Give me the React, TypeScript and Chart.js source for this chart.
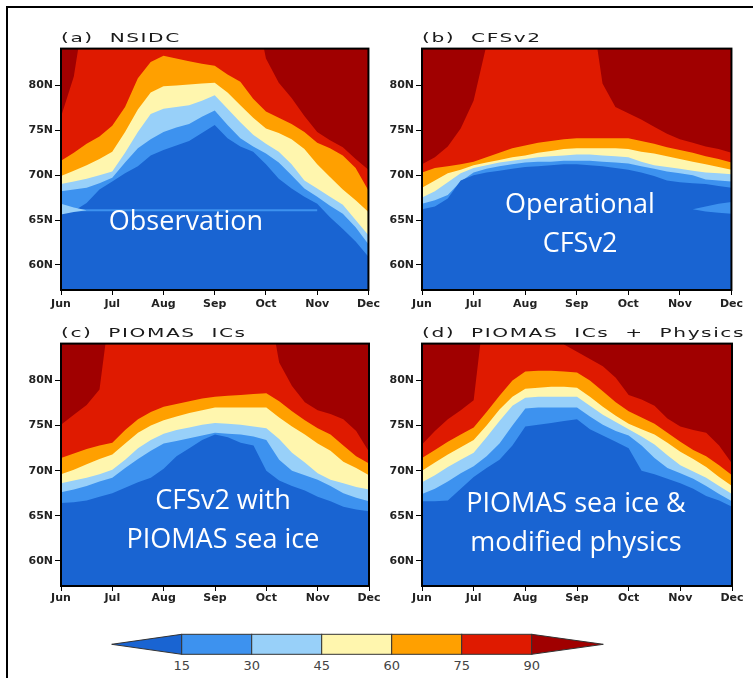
import React, { useEffect, useRef } from "react";
import { Chart, registerables } from "chart.js";

Chart.register(...registerables);

// ---------- shared axes ----------
const MONTHS = ["Jun", "Jul", "Aug", "Sep", "Oct", "Nov", "Dec"];
const MONTH_POS = [0, 1, 2, 3, 4, 5, 6];
const T = [0, 0.25, 0.5, 0.75, 1, 1.25, 1.5, 1.75, 2, 2.25, 2.5, 2.75, 3, 3.25, 3.5, 3.75, 4, 4.25, 4.5, 4.75, 5, 5.25, 5.5, 5.75, 6];
const LAT_TICKS = [60, 65, 70, 75, 80];
const LAT_MIN = 57.2;
const LAT_MAX = 84.1;

// ---------- contour levels / colours ----------
const LEVELS = [15, 30, 45, 60, 75, 90];
const BAND_COLORS = ["#1964d2", "#3d92ef", "#98d0f9", "#fff6ae", "#ffa000", "#df1a00", "#a00000"];

// ---------- (a) NSIDC : latitude of each contour level vs time ----------
const NSIDC_15 = [65.8, 66.0, 66.9, 68.4, 69.3, 70.2, 71.0, 72.2, 72.8, 73.3, 73.8, 74.7, 75.6, 74.1, 73.2, 72.6, 71.2, 69.6, 68.5, 67.6, 66.8, 65.3, 64.0, 62.6, 60.9];
const NSIDC_30 = [68.2, 68.4, 68.6, 69.1, 69.7, 71.4, 73.0, 74.0, 74.8, 75.3, 75.7, 76.5, 77.2, 75.6, 74.1, 73.2, 72.4, 71.4, 70.0, 68.5, 67.6, 66.6, 65.7, 64.2, 62.3];
const NSIDC_45 = [69.0, 69.3, 69.6, 70.0, 70.4, 72.5, 74.8, 76.8, 77.4, 77.6, 77.8, 78.3, 78.9, 77.4, 75.9, 74.5, 73.5, 72.6, 71.2, 69.4, 68.5, 67.6, 66.7, 65.0, 63.3];
const NSIDC_60 = [69.9, 70.5, 71.1, 71.8, 72.6, 74.8, 77.3, 79.2, 79.9, 80.0, 80.1, 80.2, 80.3, 79.2, 77.8, 76.4, 75.2, 74.7, 74.0, 72.9, 71.2, 69.8, 68.4, 67.2, 65.9];
const NSIDC_75 = [71.6, 72.5, 73.5, 74.3, 75.5, 77.6, 80.8, 82.6, 83.3, 83.0, 82.7, 82.4, 82.2, 81.2, 80.4, 78.5, 77.1, 76.4, 75.7, 74.8, 73.6, 73.0, 72.2, 70.8, 68.3];
const NSIDC_90 = [76.5, 81.0, 90, 90, 90, 90, 90, 90, 90, 90, 90, 90, 90, 90, 90, 90, 83.0, 80.3, 78.6, 76.6, 74.8, 73.9, 73.1, 71.8, 70.6];
const NSIDC_SEAM = [66.1, 66.1, 66.1, 66.1, 66.1, 66.1, 66.1, 66.1, 66.1, 66.1, 66.1, 66.1, 66.1, 66.1, 66.1, 66.1, 66.1, 66.1, 66.1, 66.1, 66.1];
const NSIDC_WEDGE_TOP = [66.8, 66.4, 66.1];
const NSIDC_WEDGE_BOT = [65.6, 65.9, 66.1];

// ---------- (b) CFSv2 ----------
const CFS_15 = [66.2, 66.5, 67.4, 69.4, 70.0, 70.3, 70.5, 70.7, 70.9, 71.0, 71.1, 71.2, 71.2, 71.1, 71.0, 70.8, 70.6, 70.3, 69.9, 69.4, 69.2, 69.1, 69.0, 68.8, 68.6];
const CFS_30 = [66.8, 67.2, 67.8, 69.3, 70.3, 70.7, 71.0, 71.2, 71.4, 71.5, 71.5, 71.6, 71.6, 71.6, 71.5, 71.4, 71.3, 71.0, 70.7, 70.4, 70.2, 70.0, 69.5, 69.4, 69.3];
const CFS_45 = [67.5, 68.2, 69.2, 70.2, 70.8, 71.1, 71.4, 71.6, 71.8, 72.0, 72.1, 72.2, 72.3, 72.3, 72.2, 72.1, 72.0, 71.5, 71.1, 70.9, 70.7, 70.5, 70.3, 70.2, 70.1];
const CFS_60 = [68.6, 69.4, 70.2, 70.6, 71.1, 71.4, 71.7, 72.0, 72.2, 72.5, 72.7, 72.9, 73.0, 73.0, 73.0, 73.0, 72.9, 72.6, 72.4, 72.1, 71.8, 71.5, 71.2, 70.9, 70.6];
const CFS_75 = [70.3, 70.8, 71.0, 71.2, 71.5, 72.0, 72.5, 73.0, 73.3, 73.6, 73.8, 74.0, 74.1, 74.1, 74.1, 74.1, 74.1, 73.8, 73.5, 73.1, 72.8, 72.5, 72.1, 71.8, 71.4];
const CFS_90 = [71.2, 72.0, 73.2, 75.2, 78.3, 84.5, 90, 90, 90, 90, 90, 90, 90, 90, 80.2, 77.6, 76.9, 76.2, 75.4, 74.6, 74.0, 73.6, 73.2, 72.9, 72.5];
const CFS_ISLAND_TOP = [66.2, 66.5, 66.8, 67.0];
const CFS_ISLAND_BOT = [66.2, 65.95, 65.8, 65.7];

// ---------- (c) PIOMAS ICs ----------
const PIO_15 = [66.4, 66.5, 66.7, 67.1, 67.5, 68.1, 68.7, 69.2, 70.2, 71.6, 72.5, 73.4, 74.0, 73.7, 73.1, 72.8, 70.0, 68.9, 68.3, 67.8, 67.1, 66.6, 66.0, 65.7, 65.5];
const PIO_30 = [67.6, 67.9, 68.3, 68.8, 69.2, 70.3, 71.3, 72.2, 73.0, 73.3, 73.6, 73.9, 74.2, 74.1, 74.0, 73.8, 73.4, 71.2, 70.0, 69.5, 69.0, 68.3, 67.5, 67.0, 66.6];
const PIO_45 = [68.6, 68.9, 69.2, 69.6, 70.1, 71.2, 72.5, 73.4, 74.1, 74.5, 74.8, 75.1, 75.3, 75.2, 75.1, 74.9, 74.7, 73.5, 72.0, 70.9, 69.7, 69.0, 68.6, 68.2, 67.9];
const PIO_60 = [69.6, 70.1, 70.7, 71.3, 71.8, 73.0, 74.2, 75.0, 75.6, 76.0, 76.4, 76.7, 77.0, 77.0, 77.0, 77.0, 77.0, 75.9, 74.9, 74.0, 73.0, 72.2, 71.0, 70.3, 69.5];
const PIO_75 = [71.4, 71.9, 72.4, 72.8, 73.1, 74.5, 75.7, 76.5, 77.1, 77.4, 77.7, 78.0, 78.2, 78.3, 78.4, 78.5, 78.6, 77.7, 76.6, 75.6, 74.7, 74.0, 72.8, 71.6, 70.8];
const PIO_90 = [75.1, 76.2, 77.3, 79.0, 90, 90, 90, 90, 90, 90, 90, 90, 90, 90, 90, 90, 90, 82.0, 79.4, 77.6, 76.7, 76.3, 75.7, 74.4, 72.1];

// ---------- (d) PIOMAS ICs + Physics ----------
const PHY_15 = [66.6, 66.6, 66.7, 68.0, 69.3, 70.3, 71.2, 72.8, 74.9, 75.1, 75.3, 75.5, 75.7, 74.6, 73.9, 73.2, 72.5, 70.0, 69.6, 69.1, 68.6, 68.0, 67.2, 66.7, 66.0];
const PHY_30 = [67.4, 68.0, 68.8, 69.7, 70.5, 71.6, 73.0, 75.0, 76.9, 77.0, 77.0, 77.0, 77.0, 76.0, 75.1, 74.4, 73.9, 72.8, 71.4, 70.3, 69.7, 69.1, 68.3, 67.4, 66.6];
const PHY_45 = [68.7, 69.5, 70.4, 71.2, 72.0, 73.7, 75.5, 77.2, 78.1, 78.2, 78.2, 78.2, 78.2, 77.2, 76.2, 75.4, 74.6, 73.8, 72.9, 71.7, 70.6, 69.9, 69.2, 68.3, 67.4];
const PHY_60 = [70.0, 70.9, 71.8, 72.6, 73.4, 75.0, 76.8, 78.2, 79.1, 79.2, 79.3, 79.3, 79.2, 78.2, 77.1, 76.1, 75.2, 74.6, 74.0, 73.1, 72.1, 71.3, 70.4, 69.3, 68.3];
const PHY_75 = [71.4, 72.3, 73.2, 74.0, 74.8, 76.5, 78.3, 80.0, 81.0, 81.1, 81.1, 81.0, 80.9, 80.0, 78.8, 77.6, 76.6, 75.9, 75.2, 74.2, 73.2, 72.3, 71.6, 70.6, 69.5];
const PHY_90 = [72.9, 74.4, 75.7, 76.7, 77.8, 90, 90, 90, 90, 90, 90, 84.0, 83.2, 82.4, 81.6, 80.3, 78.4, 77.9, 77.2, 75.8, 74.9, 74.5, 74.2, 72.8, 70.8];

// ---------- layout ----------
const Y_AXIS_W = 61;
const X_AXIS_H = 25;
const PAD_TOP = 7;
const PAD_RIGHT = 14;
const GRID_COLOR = "rgba(140,140,140,0.7)";

type Extra = { kind: "seam" | "patchTop" | "patchBot"; values: number[]; from: number; color?: string };
type Panel = {
  id: string;
  title: string;
  note: string;
  noteX: number;
  noteTop: number;
  lines: number[][];
  extras: Extra[];
  plot: { l: number; r: number; t: number; b: number };
  xPad: number;
};

const PANELS: Panel[] = [
  {
    id: "a", title: "(a)  NSIDC", note: "Observation", noteX: 186, noteTop: 200,
    lines: [NSIDC_15, NSIDC_30, NSIDC_45, NSIDC_60, NSIDC_75, NSIDC_90],
    extras: [
      { kind: "patchTop", values: NSIDC_WEDGE_TOP, from: 0, color: BAND_COLORS[2] },
      { kind: "patchBot", values: NSIDC_WEDGE_BOT, from: 0 },
      { kind: "seam", values: NSIDC_SEAM, from: 0 },
    ],
    plot: { l: 61, r: 369, t: 47, b: 290 }, xPad: 3,
  },
  {
    id: "b", title: "(b)  CFSv2", note: "Operational\nCFSv2", noteX: 580, noteTop: 183,
    lines: [CFS_15, CFS_30, CFS_45, CFS_60, CFS_75, CFS_90],
    extras: [
      { kind: "patchTop", values: CFS_ISLAND_TOP, from: 21, color: BAND_COLORS[1] },
      { kind: "patchBot", values: CFS_ISLAND_BOT, from: 21 },
    ],
    plot: { l: 422, r: 732, t: 47, b: 290 }, xPad: 3,
  },
  {
    id: "c", title: "(c)  PIOMAS  ICs", note: "CFSv2 with\nPIOMAS sea ice", noteX: 223, noteTop: 479,
    lines: [PIO_15, PIO_30, PIO_45, PIO_60, PIO_75, PIO_90], extras: [],
    plot: { l: 61, r: 369, t: 342, b: 586 }, xPad: 1,
  },
  {
    id: "d", title: "(d)  PIOMAS  ICs  +  Physics", note: "PIOMAS sea ice &\nmodified physics", noteX: 576, noteTop: 482,
    lines: [PHY_15, PHY_30, PHY_45, PHY_60, PHY_75, PHY_90], extras: [],
    plot: { l: 422, r: 732, t: 342, b: 586 }, xPad: 1,
  },
];

const toPoints = (arr: number[], from = 0) => arr.map((y, i) => ({ x: T[from + i], y }));

const plotBgPlugin = {
  id: "plotBg",
  beforeDatasetsDraw(chart: any) {
    const { ctx, chartArea } = chart;
    ctx.save();
    ctx.fillStyle = BAND_COLORS[6];
    ctx.fillRect(chartArea.left, chartArea.top, chartArea.right - chartArea.left, chartArea.bottom - chartArea.top);
    ctx.restore();
  },
};

const framePlugin = {
  id: "frame",
  afterDraw(chart: any) {
    const { ctx, chartArea } = chart;
    ctx.save();
    ctx.strokeStyle = "#000";
    ctx.lineWidth = 2;
    ctx.strokeRect(chartArea.left, chartArea.top, chartArea.right - chartArea.left, chartArea.bottom - chartArea.top);
    ctx.restore();
  },
};

function buildConfig(panel: Panel): any {
  const datasets: any[] = [];
  panel.extras.forEach((e) => {
    const idx = datasets.length;
    if (e.kind === "patchTop") {
      datasets.push({ data: toPoints(e.values, e.from), borderWidth: 0, pointRadius: 0, fill: idx + 1, backgroundColor: e.color });
    } else if (e.kind === "patchBot") {
      datasets.push({ data: toPoints(e.values, e.from), borderWidth: 0, pointRadius: 0, fill: false });
    } else {
      datasets.push({ data: toPoints(e.values, e.from), borderWidth: 2, borderColor: BAND_COLORS[1], pointRadius: 0, fill: false });
    }
  });
  panel.lines.forEach((arr, i) => {
    datasets.push({
      label: "> " + LEVELS[i],
      data: toPoints(arr),
      borderWidth: 0,
      pointRadius: 0,
      tension: 0,
      fill: "start",
      backgroundColor: BAND_COLORS[i],
      borderColor: BAND_COLORS[i],
    });
  });

  const tickFont = { family: "'DejaVu Sans'", size: 11, weight: "bold" as const };

  return {
    type: "line",
    data: { datasets },
    plugins: [plotBgPlugin, framePlugin],
    options: {
      responsive: false,
      animation: false,
      devicePixelRatio: 1,
      events: [],
      layout: { padding: { left: 0, top: PAD_TOP, right: PAD_RIGHT, bottom: 0 } },
      plugins: { legend: { display: false }, tooltip: { enabled: false }, title: { display: false } },
      elements: { point: { radius: 0 }, line: { tension: 0 } },
      scales: {
        x: {
          type: "linear",
          min: 0,
          max: 6,
          z: 1,
          afterBuildTicks: (s: any) => { s.ticks = MONTH_POS.map((v) => ({ value: v })); },
          afterFit: (s: any) => { s.height = X_AXIS_H; },
          ticks: {
            callback: (v: number) => MONTHS[Math.round(v)],
            font: tickFont, color: "#222", padding: panel.xPad, maxRotation: 0, autoSkip: false,
          },
          grid: { color: GRID_COLOR, lineWidth: 1, tickColor: "#000", tickLength: 5, tickWidth: 1 },
          border: { display: false, dash: [1.5, 6.5] },
        },
        y: {
          type: "linear",
          min: LAT_MIN,
          max: LAT_MAX,
          z: 1,
          afterBuildTicks: (s: any) => { s.ticks = LAT_TICKS.map((v) => ({ value: v })); },
          afterFit: (s: any) => { s.width = Y_AXIS_W; },
          ticks: { callback: (v: number) => v + "N", font: tickFont, color: "#222", padding: 2, autoSkip: false },
          grid: { color: GRID_COLOR, lineWidth: 1, tickColor: "#000", tickLength: 6, tickWidth: 1 },
          border: { display: false, dash: [1.5, 6.5] },
        },
      },
    },
  };
}

function PanelChart({ panel }: { panel: Panel }) {
  const ref = useRef<HTMLCanvasElement>(null);
  useEffect(() => {
    const chart = new Chart(ref.current as HTMLCanvasElement, buildConfig(panel));
    return () => chart.destroy();
  }, [panel]);
  const { l, r, t, b } = panel.plot;
  const left = l - Y_AXIS_W;
  const top = t - PAD_TOP;
  const w = r - left + PAD_RIGHT;
  const h = b - top + X_AXIS_H;
  return (
    <>
      <canvas ref={ref} width={w} height={h} style={{ position: "absolute", left, top, width: w, height: h }} />
      <div
        style={{
          position: "absolute", left: l, top: t - 16, font: "13px 'DejaVu Sans'", letterSpacing: "1px",
          lineHeight: "13px", whiteSpace: "pre", color: "#1a1a1a", transform: "scaleX(1.55)", transformOrigin: "0 0",
        }}
      >
        {panel.title}
      </div>
      <div
        style={{
          position: "absolute", left: panel.noteX - 160, width: 320, top: panel.noteTop, textAlign: "center",
          font: "27px 'Open Sans'", lineHeight: "39px", color: "#fff", whiteSpace: "pre",
        }}
      >
        {panel.note}
      </div>
    </>
  );
}

function ColorBar() {
  const x0 = 181.7;
  const seg = 70;
  const yTop = 14.3;
  const hgt = 20;
  const n = LEVELS.length;
  const xEnd = x0 + seg * (n - 1);
  return (
    <svg width={753} height={58} style={{ position: "absolute", left: 0, top: 620 }}>
      <polygon
        points={`111.7,${yTop + hgt / 2} ${x0},${yTop} ${x0},${yTop + hgt}`}
        fill={BAND_COLORS[0]} stroke="#333" strokeWidth={1}
      />
      {LEVELS.slice(0, n - 1).map((lv, i) => (
        <rect key={lv} x={x0 + i * seg} y={yTop} width={seg} height={hgt} fill={BAND_COLORS[i + 1]} stroke="#333" strokeWidth={1} />
      ))}
      <polygon
        points={`${xEnd},${yTop} 603.3,${yTop + hgt / 2} ${xEnd},${yTop + hgt}`}
        fill={BAND_COLORS[6]} stroke="#333" strokeWidth={1}
      />
      {LEVELS.map((lv, i) => (
        <text key={"t" + lv} x={x0 + i * seg} y={50} textAnchor="middle" fontFamily="DejaVu Sans" fontSize={13} fill="#444">
          {lv}
        </text>
      ))}
    </svg>
  );
}

export default function App() {
  return (
    <div style={{ position: "absolute", left: 0, top: 0, width: 753, height: 678, background: "#fff", overflow: "hidden" }}>
      <div style={{ position: "absolute", left: 6, top: 6, width: 800, height: 700, borderTop: "2px solid #000", borderLeft: "2px solid #000" }} />
      {PANELS.map((p) => (
        <PanelChart key={p.id} panel={p} />
      ))}
      <ColorBar />
    </div>
  );
}
